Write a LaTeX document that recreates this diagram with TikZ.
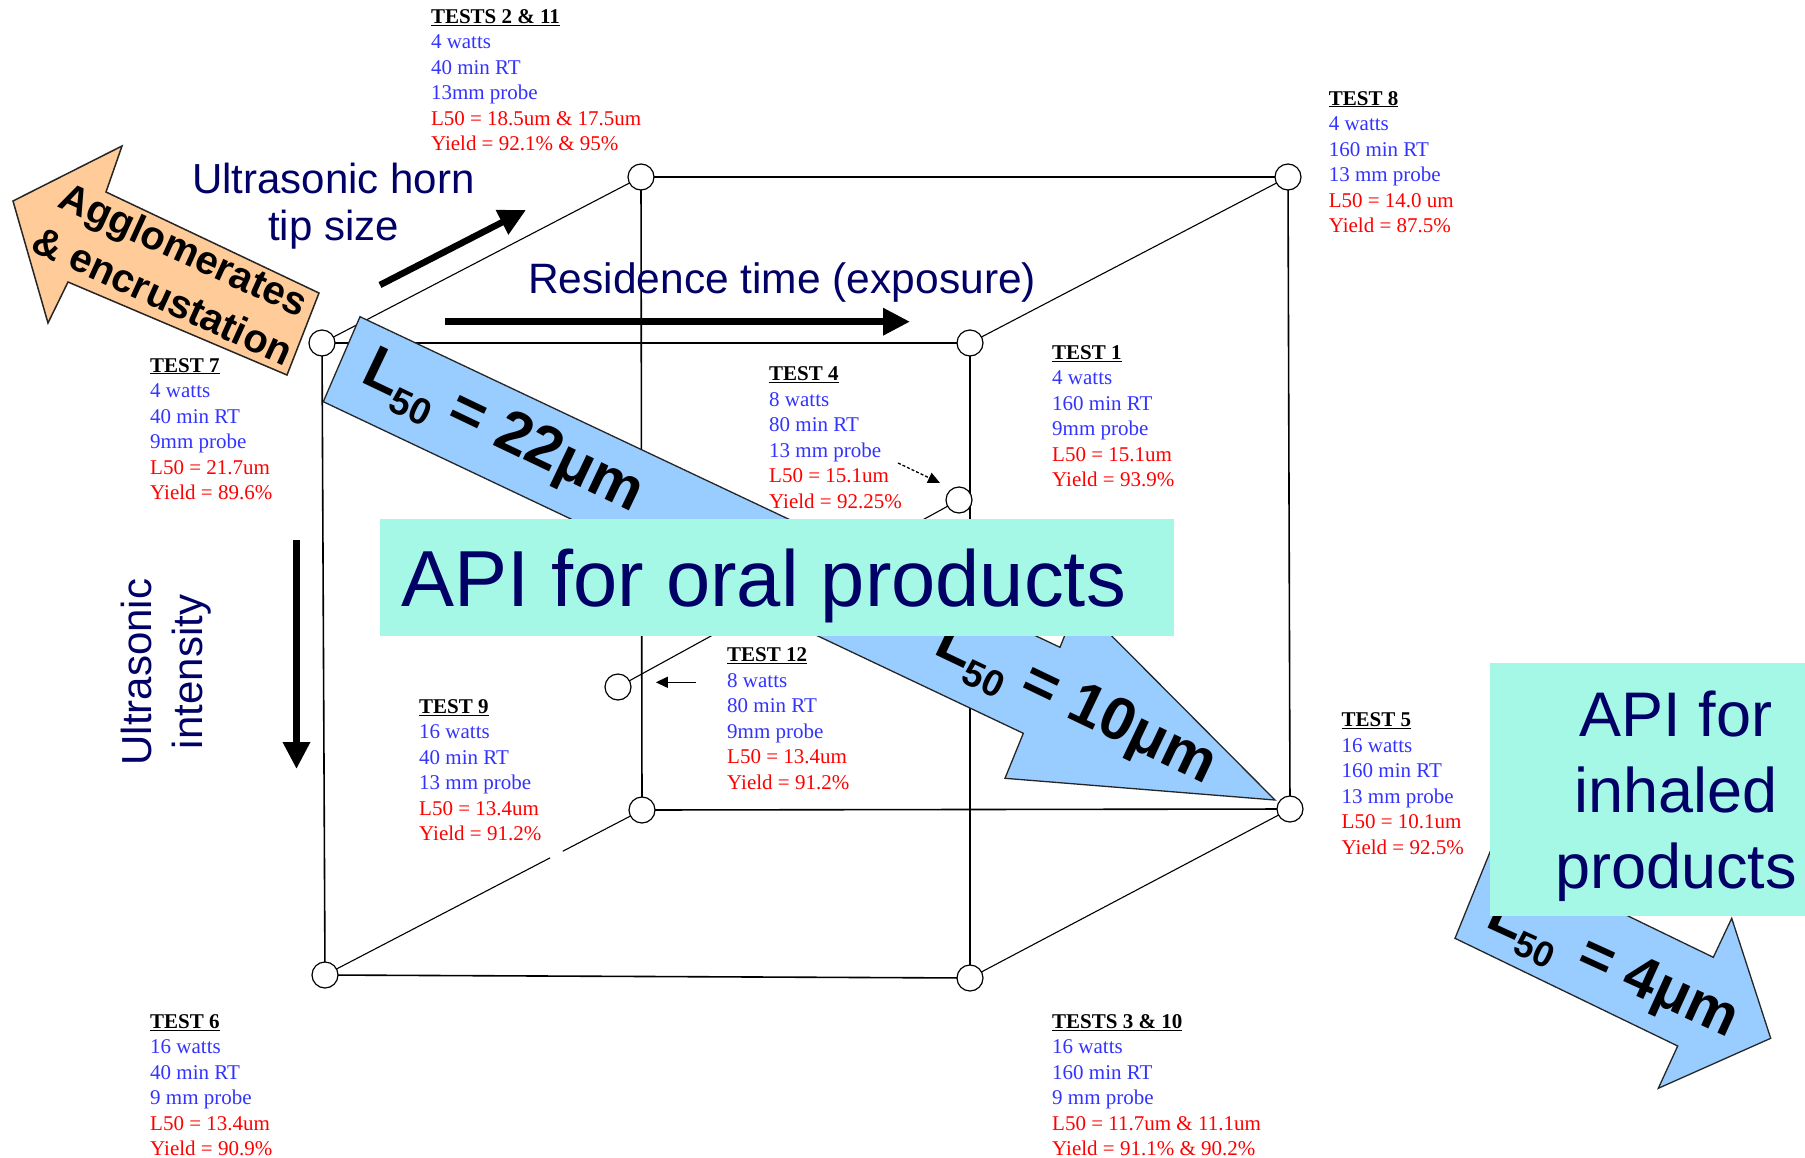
\documentclass[tikz,border=0pt]{standalone}
\usepackage{fontspec}
\usepackage{graphicx}
\setmainfont{Liberation Serif}
\newfontfamily\arialf{Liberation Sans}
\usetikzlibrary{arrows.meta,calc}
\definecolor{navy}{RGB}{0,0,102}
\definecolor{tblue}{RGB}{51,51,255}
\definecolor{tred}{RGB}{255,0,0}
\definecolor{aqua}{RGB}{166,248,230}
\definecolor{lblue}{RGB}{153,204,255}
\definecolor{peach}{RGB}{255,204,153}
\newcommand{\testlab}[6]{\begin{tabular}[t]{@{}l@{}}\underline{\textbf{#1}}\\{\color{tblue}#2}\\{\color{tblue}#3}\\{\color{tblue}#4}\\{\color{tred}#5}\\{\color{tred}#6}\end{tabular}}
\newcommand{\Lsub}{L\raisebox{-0.22em}{\scalebox{0.62}{50}}}
\tikzset{
  vtx/.style={circle, draw, line width=1.2pt, fill=white, minimum size=26pt, inner sep=0pt},
  cubeline/.style={line width=1.6pt},
  depthline/.style={line width=1.1pt},
  bigarrow/.style={line width=6.5pt, -{Triangle[length=27pt,width=26pt]}},
  smallarrow/.style={line width=1.3pt, -{Triangle[length=12pt,width=11pt]}},
  navylab/.style={font=\arialf\fontsize{42}{47}\selectfont, text=navy, inner sep=0pt},
  testlbl/.style={anchor=base west, inner sep=0pt, font=\fontsize{21}{25.5}\selectfont},
  blueshape/.style={fill=lblue, draw=black!85, line width=1.3pt, line join=miter},
  orangeshape/.style={fill=peach, draw=black!85, line width=1.5pt},
  lfifty/.style={font=\arialf\bfseries\fontsize{60}{60}\selectfont, inner sep=0pt},
  abox/.style={rectangle, fill=aqua, draw=none, inner sep=0pt, anchor=north west},
}
\begin{document}
\begin{tikzpicture}[x=1pt,y=-1pt]
\useasboundingbox (0,0) rectangle (1805,1157);
\fill[white] (0,0) rectangle (1805,1157);

% cube vertices
\coordinate (ftl) at (322,343);
\coordinate (ftr) at (970,343);
\coordinate (fbl) at (325,975);
\coordinate (fbr) at (970,978);
\coordinate (btl) at (641,177);
\coordinate (btr) at (1288,177);
\coordinate (bbl) at (642,810);
\coordinate (bbr) at (1290,809);
\coordinate (mA) at (959,500);
\coordinate (mB) at (618,687);

\draw[cubeline] (ftl) -- (ftr) -- (fbr) -- (fbl) -- cycle;
\draw[cubeline] (btl) -- (btr) -- (bbr) -- (bbl) -- cycle;
\draw[depthline] (ftl) -- (btl);
\draw[depthline] (ftr) -- (btr);
\draw[depthline] (fbr) -- (bbr);
\draw[depthline] (mB) -- (mA);
\draw[depthline] (fbl) -- ($(fbl)!0.71!(bbl)$);
\draw[depthline] ($(fbl)!0.75!(bbl)$) -- (bbl);
\foreach \p in {ftl,ftr,fbl,fbr,btl,btr,bbl,bbr,mA,mB}
  \node[vtx] (\p-c) at (\p) {};

% black axis arrows
\coordinate (horn-s) at (380,285);
\coordinate (horn-e) at (526,210);
\coordinate (res-s) at (445,321.7);
\coordinate (res-e) at (910,321.7);
\coordinate (int-s) at (296.5,540);
\coordinate (int-e) at (296.5,769);
\draw[bigarrow] (horn-s) -- (horn-e);
\draw[bigarrow] (res-s) -- (res-e);
\draw[bigarrow] (int-s) -- (int-e);

\node[navylab, anchor=base] (horntxt) at (333.5,193.3)
  {\begin{tabular}[t]{@{}c@{}}Ultrasonic horn\\tip size\end{tabular}};
\node[navylab, anchor=base west, font=\arialf\fontsize{42.5}{47}\selectfont] (restxt) at (528,293.3)
  {Residence time (exposure)};
\node[navylab, anchor=base, rotate=90, font=\arialf\fontsize{42}{51}\selectfont] (inttxt) at (151.3,672)
  {\begin{tabular}[t]{@{}c@{}}Ultrasonic\\intensity\end{tabular}};

% orange arrow
\draw[orangeshape] (13,201) -- (122,146) -- (106,192) -- (319,293) -- (287,375) -- (68,282) -- (48,323) -- cycle;
\node[font=\arialf\bfseries\fontsize{40}{51}\selectfont, rotate=-24.5, inner sep=0pt] (aggtxt) at (172,276)
  {\begin{tabular}{@{}c@{}}Agglomerates\\\& encrustation\end{tabular}};

% blue arrows
\draw[blueshape] (360,316.7) -- (1060,647.3) -- (1078,602) -- (1275,800) -- (1005,778.3) -- (1023.3,733.3) -- (323.3,401.7) -- cycle;
\draw[blueshape] (1491,849.6) -- (1713.3,957.3) -- (1731.7,918.3) -- (1770.7,1038.3) -- (1658.3,1088.3) -- (1677.7,1046) -- (1455,938.3) -- cycle;
\node[lfifty, rotate=-25.5] (l22) at (502,434) {\Lsub\ = 22μm};
\node[lfifty, rotate=-25.5] (l10) at (1075,706) {\Lsub\ = 10μm};
\node[lfifty, rotate=-24.5, font=\arialf\bfseries\fontsize{58}{58}\selectfont] (l4) at (1612,970) {\Lsub\hspace{0.12em}\ = 4μm};

% small pointer arrows
\coordinate (p4s) at (898,463);
\coordinate (p4e) at (940,483);
\coordinate (p12s) at (696,682.3);
\coordinate (p12e) at (655.8,682.3);
\draw[smallarrow, dash pattern=on 3pt off 2pt] (p4s) -- (p4e);
\draw[smallarrow] (p12s) -- (p12e);

% test labels
\node[testlbl] (t211) at (430.8,23.3) {\testlab{TESTS 2 \& 11}{4 watts}{40 min RT}{13mm probe}{L50 = 18.5um \& 17.5um}{Yield = 92.1\% \& 95\%}};
\node[testlbl] (t8) at (1328.6,105) {\testlab{TEST 8}{4 watts}{160 min RT}{13 mm probe}{L50 = 14.0 um}{Yield = 87.5\%}};
\node[testlbl] (t7) at (150,372) {\testlab{TEST 7}{4 watts}{40 min RT}{9mm probe}{L50 = 21.7um}{Yield = 89.6\%}};
\node[testlbl] (t4) at (769,380.7) {\testlab{TEST 4}{8 watts}{80 min RT}{13 mm probe}{L50 = 15.1um}{Yield = 92.25\%}};
\node[testlbl] (t1) at (1052,359.3) {\testlab{TEST 1}{4 watts}{160 min RT}{9mm probe}{L50 = 15.1um}{Yield = 93.9\%}};
\node[testlbl] (t12) at (727,661.7) {\testlab{TEST 12}{8 watts}{80 min RT}{9mm probe}{L50 = 13.4um}{Yield = 91.2\%}};
\node[testlbl] (t9) at (419,713.3) {\testlab{TEST 9}{16 watts}{40 min RT}{13 mm probe}{L50 = 13.4um}{Yield = 91.2\%}};
\node[testlbl] (t5) at (1341.5,726.5) {\testlab{TEST 5}{16 watts}{160 min RT}{13 mm probe}{L50 = 10.1um}{Yield = 92.5\%}};
\node[testlbl] (t6) at (150,1028.3) {\testlab{TEST 6}{16 watts}{40 min RT}{9 mm probe}{L50 = 13.4um}{Yield = 90.9\%}};
\node[testlbl] (t310) at (1052,1028.3) {\testlab{TESTS 3 \& 10}{16 watts}{160 min RT}{9 mm probe}{L50 = 11.7um \& 11.1um}{Yield = 91.1\% \& 90.2\%}};

% API boxes
\node[abox, minimum width=793.5pt, minimum height=116.5pt] (oralbox) at (380,519) {};
\node[anchor=base west, inner sep=0pt, text=navy, font=\arialf\fontsize{79.5}{90}\selectfont] (oraltxt) at (401,606.7) {API for oral products};
\node[abox, minimum width=315pt, minimum height=253pt] (inhbox) at (1490,663) {};
\node[anchor=base, inner sep=0pt, text=navy, font=\arialf\fontsize{63}{76}\selectfont] (inhtxt) at (1676,736.7)
  {\begin{tabular}[t]{@{}c@{}}API for\\inhaled\\products\end{tabular}};
\end{tikzpicture}
\end{document}
